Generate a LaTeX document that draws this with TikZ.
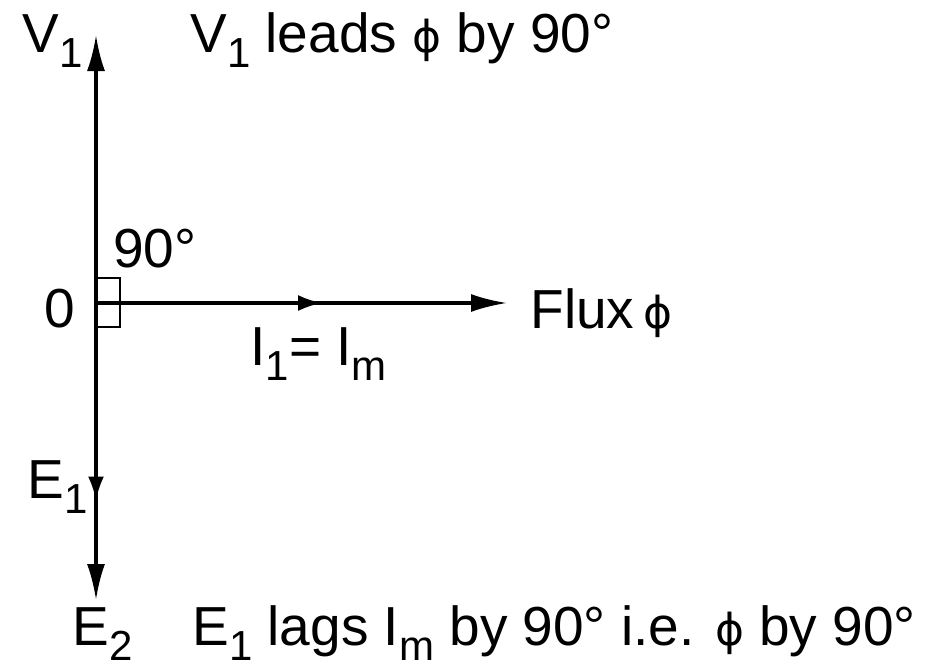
\documentclass[tikz,border=0pt]{standalone}
\usepackage{fontspec}
\setmainfont{Liberation Sans}
\newfontfamily\phifont{DejaVu Sans}
\usetikzlibrary{arrows.meta,decorations.markings}
\newcommand{\lowsub}[1]{\raisebox{-7.5pt}{\fontsize{21}{21}\selectfont #1}}
\newcommand{\fluxsym}{{\phifont\fontsize{22}{22}\selectfont ϕ}}
\tikzset{
  phasor/.style={black, -{Latex[length=18pt,width=9pt]}, line width=1.6pt},
  midarrow/.style={postaction={decorate}, decoration={markings, mark=at position #1 with {\arrow{Latex[length=12pt,width=8pt]}}}},
  lbl/.style={anchor=base west, inner sep=0pt, font=\fontsize{27.5}{32}\selectfont},
  rightangle/.style={black, line width=1pt}
}
\begin{document}
\begin{tikzpicture}[x=0.5pt, y=-0.5pt]
  \useasboundingbox (0,0) rectangle (943,669);
  \coordinate (O) at (96,303);
  \coordinate (Vtip) at (96,35);
  \coordinate (Etip) at (96,600);
  \coordinate (Ftip) at (507,303);
  % phasors
  \draw[phasor] (O) -- (Vtip);
  \draw[phasor, midarrow=0.665] (O) -- (Etip);
  \draw[phasor, midarrow=0.55] (O) -- (Ftip);
  \draw[rightangle] ([shift={(1,-25)}]O) rectangle ([shift={(24,24)}]O);
  % labels
  \node[lbl] (vlabel) at (22,53) {V\lowsub{1}};
  \node[lbl] (vnote) at (190,53) {V\lowsub{1} leads \fluxsym{} by 90°};
  \node[lbl] (angle) at (113,267) {90°};
  \node[lbl] (origin) at (44,327) {0};
  \node[lbl] (flux) at (530,328) {Flux\,\fluxsym};
  \node[lbl] (current) at (250,365) {I\lowsub{1}= I\lowsub{m}};
  \node[lbl] (eone) at (27,498) {E\lowsub{1}};
  \node[lbl] (etwo) at (72,645) {E\lowsub{2}};
  \node[lbl] (enote) at (192,645) {E\lowsub{1} lags I\lowsub{m} by 90° i.e. \fluxsym{} by 90°};
\end{tikzpicture}
\end{document}
